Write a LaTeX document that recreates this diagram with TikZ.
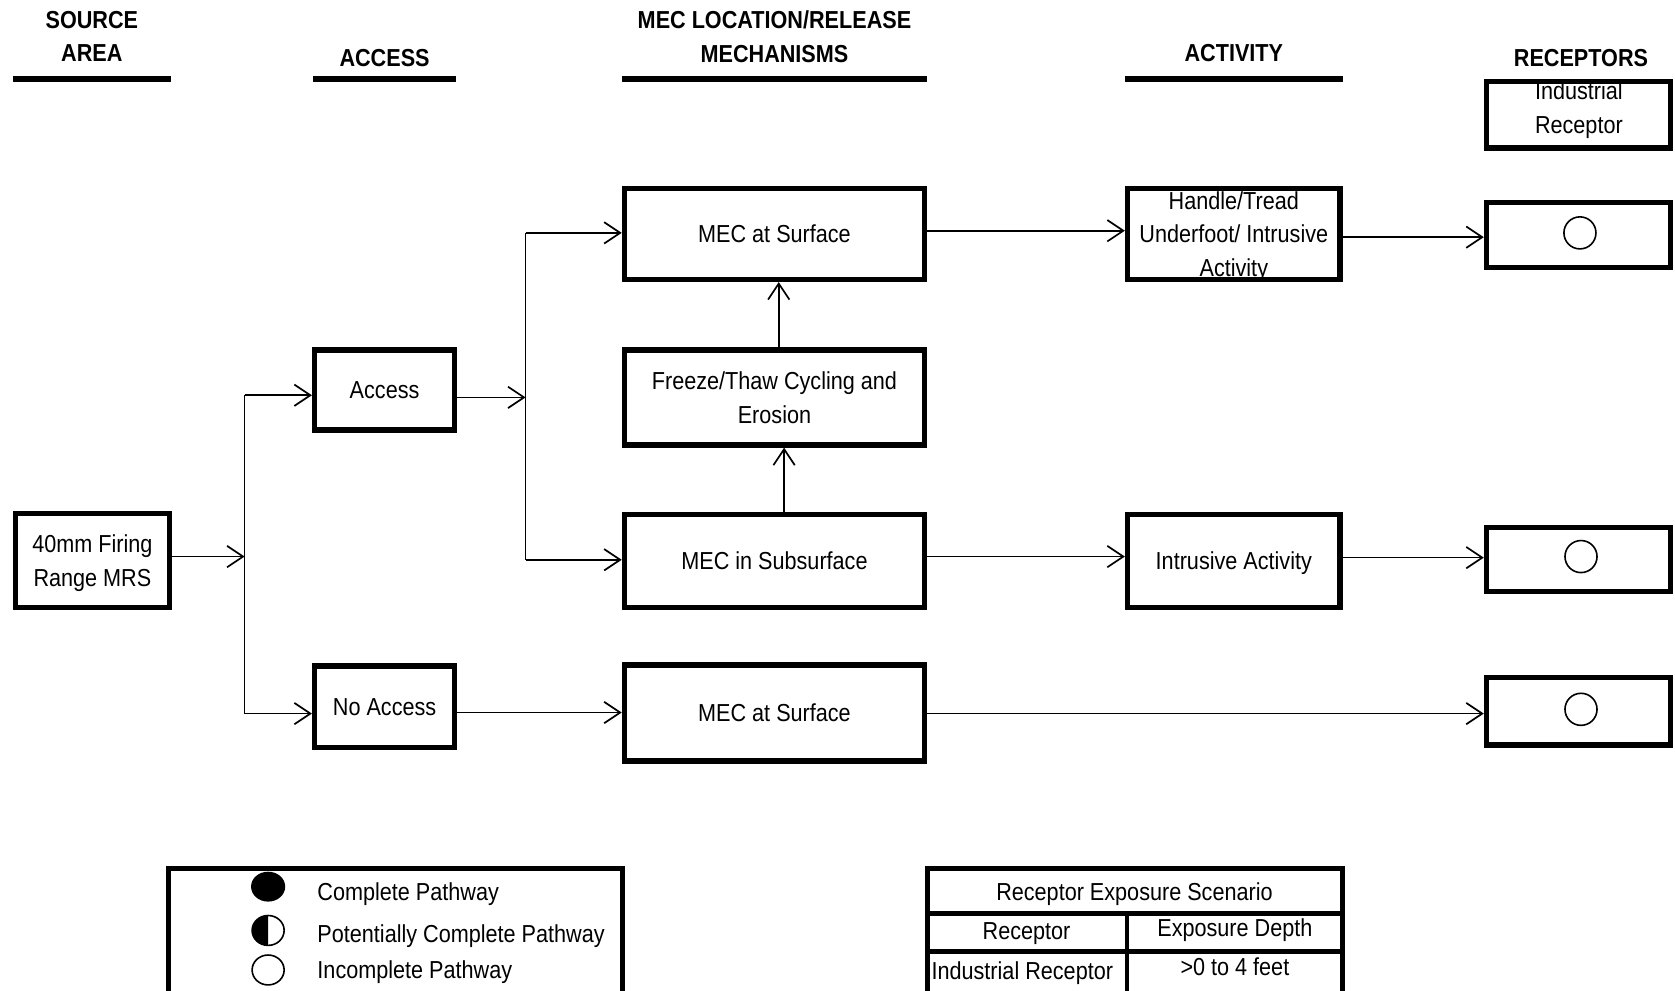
\documentclass[tikz,border=0pt]{standalone}
\usepackage{fontspec}
\setmainfont[FakeStretch=0.88]{Liberation Sans}
\usetikzlibrary{arrows.meta}
\newcommand\dgfont{\fontsize{23}{31.5}\selectfont}
\begin{document}
\begin{tikzpicture}[x=1pt,y=-1pt,
  every node/.style={font=\dgfont, text depth=0pt},
  box/.style={draw, line width=5pt, inner sep=0pt, align=center},
  head/.style={font=\dgfont\bfseries, align=center, inner sep=0pt},
  uline/.style={line width=5pt},
  conn/.style={line width=1.6pt},
  arr/.style={line width=1.6pt, -{Straight Barb[length=15pt,width=20pt]}},
  circ/.style={draw, circle, line width=1.5pt, minimum size=30pt, inner sep=0pt},
  lbl/.style={anchor=west, inner sep=0pt}]
\clip (0,0) rectangle (1568,927);
\fill[white] (0,0) rectangle (1568,927);

% headers
\node[head] (hsrc) at (86,34) {SOURCE\\AREA};
\node[head] (hacc) at (360,54) {ACCESS};
\node[head] (hmec) at (725,34) {MEC LOCATION/RELEASE\\MECHANISMS};
\node[head] (hact) at (1155,50) {ACTIVITY};
\node[head] (hrec) at (1480,54) {RECEPTORS};
\draw[uline] (12,74) -- (160,74);
\draw[uline] (293,74) -- (427,74);
\draw[uline] (582,74) -- (868,74);
\draw[uline] (1053,74) -- (1257,74);

% boxes
\node[box, minimum width=144pt, minimum height=88pt] (src) at (86.5,524.5) {40mm Firing\\Range MRS};
\node[box, minimum width=131pt, minimum height=75pt] (acc) at (360,365) {Access};
\node[box, minimum width=131pt, minimum height=76pt] (noacc) at (360,661.5) {No Access};
\node[box, minimum width=281pt, minimum height=85pt] (surf1) at (725,219) {MEC at Surface};
\node[box, minimum width=281pt, minimum height=89pt] (freeze) at (725,372) {Freeze/Thaw Cycling and\\Erosion};
\node[box, minimum width=281pt, minimum height=87pt] (subs) at (725,525) {MEC in Subsurface};
\node[box, minimum width=281pt, minimum height=90pt] (surf2) at (725,667.5) {MEC at Surface};
\node[box, minimum width=199pt, minimum height=85pt] (handle) at (1155,219) {Handle/Tread\\Underfoot/ Intrusive\\Activity};
\node[box, minimum width=199pt, minimum height=87pt] (intr) at (1155,525) {Intrusive Activity};
\node[box, minimum width=172pt, minimum height=62pt] (rhead) at (1477.5,107.5) {};
\node[align=center, inner sep=0pt] (rheadt) at (1478,100.5) {Industrial\\Receptor};
\node[box, minimum width=172pt, minimum height=61pt] (r1) at (1477.5,220) {};
\node[box, minimum width=172pt, minimum height=60pt] (r2) at (1477.5,523.5) {};
\node[box, minimum width=172pt, minimum height=63pt] (r3) at (1477.5,666) {};
\node[circ] (c1) at (1479,218) {};
\node[circ] (c2) at (1480,521) {};
\node[circ] (c3) at (1480,664) {};

% connectors
\coordinate (j1) at (229,521);
\coordinate (j1t) at (229,370);
\coordinate (j1b) at (229,668);
\draw[arr] (src.east |- j1) -- (j1);
\draw[conn] (j1t) -- (j1b);
\draw[arr] (j1t) -- (acc.west |- j1t);
\draw[arr] (j1b) -- (noacc.west |- j1b);

\coordinate (j2) at (492,372);
\coordinate (j2t) at (492,218);
\coordinate (j2b) at (492,524);
\draw[arr] (acc.east |- j2) -- (j2);
\draw[conn] (j2t) -- (j2b);
\draw[arr] (j2t) -- (surf1.west |- j2t);
\draw[arr] (j2b) -- (subs.west |- j2b);

\draw[arr] (freeze.north -| 729,0) -- (surf1.south -| 729,0);
\draw[arr] (subs.north -| 734,0) -- (freeze.south -| 734,0);
\draw[arr] (surf1.east |- 0,216) -- (handle.west |- 0,216);
\draw[arr] (handle.east |- 0,222) -- (r1.west |- 0,222);
\draw[arr] (subs.east |- 0,521) -- (intr.west |- 0,521);
\draw[arr] (intr.east |- 0,522) -- (r2.west |- 0,522);
\draw[arr] (noacc.east |- 0,667) -- (surf2.west |- 0,667);
\draw[arr] (surf2.east |- 0,668) -- (r3.west |- 0,668);

% legend
\draw[line width=5pt] (158,980) -- (158,813) -- (583,813) -- (583,980);
\fill (251,830) ellipse [x radius=16, y radius=14];
\begin{scope}
  \clip (230,850) rectangle (251,892);
  \fill (251,871) ellipse [x radius=15, y radius=14];
\end{scope}
\draw[line width=1.5pt] (251,871) ellipse [x radius=15, y radius=14];
\draw[line width=1.5pt] (251,908) ellipse [x radius=15, y radius=14];
\node[lbl] (l1) at (297,835) {Complete Pathway};
\node[lbl] (l2) at (297,874) {Potentially Complete Pathway};
\node[lbl] (l3) at (297,908) {Incomplete Pathway};

% table
\draw[line width=4.5pt] (868,980) -- (868,813) -- (1257,813) -- (1257,980);
\draw[line width=4.5pt] (868,855) -- (1257,855);
\draw[line width=4.5pt] (868,891) -- (1257,891);
\draw[line width=4.5pt] (1055,855) -- (1055,980);
\node[inner sep=0pt] (t0) at (1062,835) {Receptor Exposure Scenario};
\node[inner sep=0pt] (t1) at (961,872) {Receptor};
\node[inner sep=0pt] (t2) at (1156,868) {Exposure Depth};
\node[inner sep=0pt] (t3) at (957,909) {Industrial Receptor};
\node[inner sep=0pt] (t4) at (1156,905) {>0 to 4 feet};
\end{tikzpicture}
\end{document}
